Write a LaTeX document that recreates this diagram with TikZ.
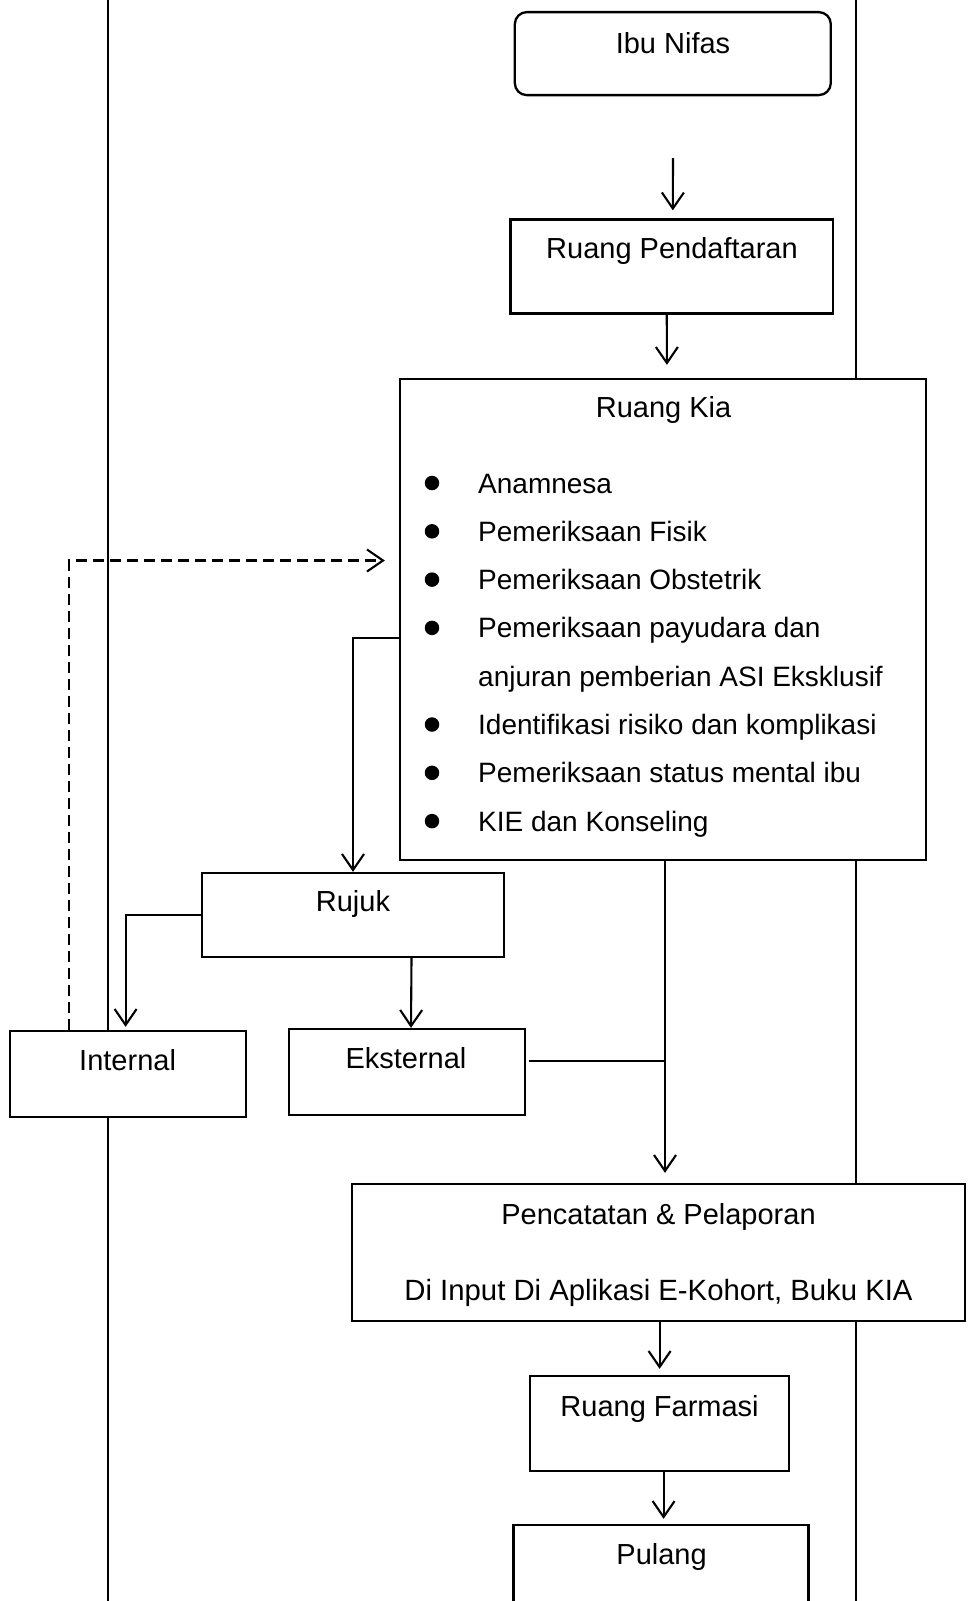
\documentclass[tikz,border=0pt]{standalone}
\usepackage{fontspec}
\setmainfont{Liberation Sans}
\usetikzlibrary{arrows.meta,calc}
\begin{document}
\begin{tikzpicture}[x=1pt,y=-1pt,
  box/.style={draw,line width=2.3pt,fill=white,inner sep=0pt},
  txt/.style={anchor=base,inner sep=0pt,font=\fontsize{29}{34}\selectfont},
  itm/.style={anchor=base west,inner sep=0pt,font=\fontsize{28}{33}\selectfont},
  dot/.style={circle,fill=black,inner sep=0pt,minimum size=14.5pt},
  conn/.style={line width=2pt},
  arr/.style={line width=2.1pt,-{Straight Barb[length=16pt,width=22pt,line width=2.1pt]}},
  lane/.style={line width=2.1pt}]
\useasboundingbox[fill=white] (0,0) rectangle (974,1601);
% lane lines
\coordinate (lt) at (108,-5);
\coordinate (lb) at (108,1610);
\coordinate (rt) at (856,-5);
\coordinate (rb) at (856,1610);
\draw[lane] (lt) -- (lb);
\draw[lane] (rt) -- (rb);
% boxes
\node[box,rounded corners=12pt,minimum width=316pt,minimum height=83pt] (ibu) at (672.8,53.6) {};
\node[box,minimum width=322.5pt,minimum height=94pt] (daftar) at (671.75,266.5) {};
\node[box,minimum width=526pt,minimum height=481pt] (kia) at (663,619.5) {};
\node[box,minimum width=302pt,minimum height=84pt] (rujuk) at (353,915) {};
\node[box,minimum width=236pt,minimum height=86pt] (internal) at (128,1074) {};
\node[box,minimum width=236pt,minimum height=86pt] (eksternal) at (407,1072) {};
\node[box,minimum width=613pt,minimum height=137pt] (catat) at (658.5,1252.5) {};
\node[box,minimum width=259pt,minimum height=95pt] (farmasi) at (659.5,1423.5) {};
\node[box,minimum width=295pt,minimum height=115pt] (pulang) at (661,1582.5) {};
% texts
\node[txt] (tibu) at (673,53.5) {Ibu Nifas};
\node[txt] (tdaftar) at (672,258.5) {Ruang Pendaftaran};
\node[txt] (tkia) at (663.6,417) {Ruang Kia};
\node[itm] (i1) at (478,493) {Anamnesa};
\node[itm] (i2) at (478,541.3) {Pemeriksaan Fisik};
\node[itm] (i3) at (478,589.6) {Pemeriksaan Obstetrik};
\node[itm] (i4) at (478,637.9) {Pemeriksaan payudara dan};
\node[itm] (i4b) at (478,686.2) {anjuran pemberian ASI Eksklusif};
\node[itm] (i5) at (478,734.5) {Identifikasi risiko dan komplikasi};
\node[itm] (i6) at (478,782.8) {Pemeriksaan status mental ibu};
\node[itm] (i7) at (478,831.1) {KIE dan Konseling};
\node[dot] (d1) at (432,483) {};
\node[dot] (d2) at (432,531.3) {};
\node[dot] (d3) at (432,579.6) {};
\node[dot] (d4) at (432,627.9) {};
\node[dot] (d5) at (432,724.5) {};
\node[dot] (d6) at (432,772.8) {};
\node[dot] (d7) at (432,821.1) {};
\node[txt] (trujuk) at (353,911.5) {Rujuk};
\node[txt] (tinternal) at (127.6,1070) {Internal};
\node[txt] (teksternal) at (406,1068) {Eksternal};
\node[txt] (tcatat1) at (658.5,1224) {Pencatatan \& Pelaporan};
\node[txt,font=\fontsize{29.3}{34}\selectfont] (tcatat2) at (658.5,1300.5) {Di Input Di Aplikasi E-Kohort, Buku KIA};
\node[txt] (tfarmasi) at (659.6,1416) {Ruang Farmasi};
\node[txt] (tpulang) at (661.6,1564) {Pulang};
% connectors
\coordinate (a0) at (673,158);
\draw[arr,shorten >=8pt] (a0) -- (ibu.south |- daftar.north);
\draw[arr,shorten >=13pt] ([xshift=-5pt]daftar.south) -- ([xshift=4pt]kia.north);
\draw[arr] ([yshift=-18.5pt]kia.west) -| (rujuk.north);
\draw[arr,shorten >=3pt] (rujuk.west) -| ([xshift=-2.4pt]internal.north);
\draw[arr] ([xshift=58.5pt]rujuk.south) -- ([xshift=4pt]eksternal.north);
\draw[arr,shorten >=10pt] ([xshift=2pt]kia.south) -- ([xshift=6.5pt]catat.north);
\coordinate (j) at (665,1061);
\draw[line width=1.2pt] ([xshift=3pt,yshift=11pt]eksternal.east) -- (j);
\draw[arr,shorten >=6pt] ([xshift=1.1pt]catat.south) -- ([xshift=0.1pt]farmasi.north);
\draw[arr,shorten >=5pt] ([xshift=4.1pt]farmasi.south) -- ([xshift=2.6pt]pulang.north);
\draw[arr,dash pattern=on 11pt off 6pt,shorten >=14pt] ([xshift=-58.6pt]internal.north) |- ([yshift=59pt]kia.west);
\end{tikzpicture}
\end{document}
